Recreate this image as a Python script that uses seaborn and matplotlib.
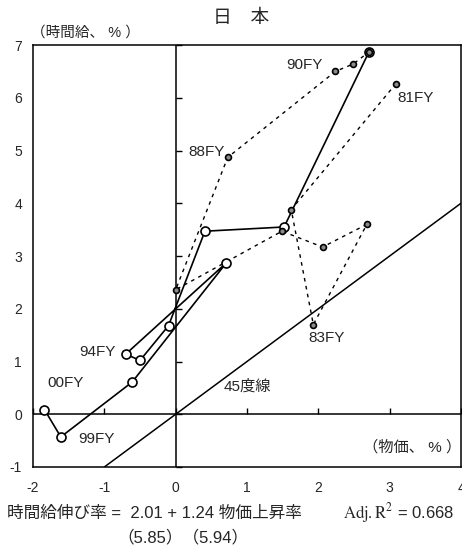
import matplotlib
matplotlib.use("Agg")
import matplotlib.pyplot as plt
import seaborn as sns
import pandas as pd

sns.set_theme(style="white")
FAM = ['Liberation Sans', 'Noto Sans CJK JP']
plt.rcParams['font.family'] = FAM
plt.rcParams['mathtext.fontset'] = 'stix'

# ---- data ----
fiscal_years = ["81", "82", "83", "84", "85", "86", "87", "88", "89", "90",
                "91", "92", "93", "94", "95", "96", "97", "98", "99", "00"]
price_growth = [3.09, 1.62, 1.93, 2.68, 2.06, 1.49, 0.00, 0.73, 2.24, 2.49,
                2.71, 1.52, 0.41, -0.10, -0.50, -0.70, 0.71, -0.61, -1.61, -1.84]
wage_growth = [6.27, 3.88, 1.70, 3.60, 3.17, 3.47, 2.36, 4.87, 6.50, 6.64,
               6.87, 3.55, 3.47, 1.68, 1.02, 1.14, 2.87, 0.61, -0.43, 0.09]
early_end = "91"       # dashed period: 81FY..91FY, solid period: 91FY..00FY

point_labels = ["81FY", "83FY", "88FY", "90FY", "94FY", "99FY", "00FY"]
label_x = [3.37, 2.11, 0.43, 1.80, -1.09, -1.11, -1.55]
label_y = [6.00, 1.45, 4.97, 6.62, 1.18, -0.46, 0.59]

x_ticks = [-2, -1, 0, 1, 2, 3, 4]
y_ticks = [-1, 0, 1, 2, 3, 4, 5, 6, 7]

df = pd.DataFrame({"fy": fiscal_years, "price": price_growth, "wage": wage_growth})
split = fiscal_years.index(early_end)
early = df.iloc[:split + 1]
late = df.iloc[split:]

fig = plt.figure(figsize=(4.62, 5.5), dpi=100)
ax = fig.add_axes([33 / 462, 83 / 550, 428 / 462, 422 / 550])

xmin, xmax = x_ticks[0], x_ticks[-1]
ymin, ymax = y_ticks[0], y_ticks[-1]
ax.set_xlim(xmin, xmax)
ax.set_ylim(ymin, ymax)

# zero lines and 45 degree line
ax.axhline(0, color='black', lw=1.1, zorder=1)
ax.axvline(0, color='black', lw=1.1, zorder=1)
ax.axline((0, 0), slope=1, color='black', lw=1.1, zorder=1)

# dashed period
sns.lineplot(data=early, x="price", y="wage", sort=False, estimator=None,
             color='black', lw=1.0, ax=ax, zorder=2)
ax.lines[-1].set_dashes((2.6, 3.2))
# solid period
sns.lineplot(data=late, x="price", y="wage", sort=False, estimator=None,
             color='black', lw=1.2, ax=ax, zorder=3)

sns.scatterplot(data=late, x="price", y="wage", s=42, color='white',
                edgecolor='black', linewidth=1.2, ax=ax, zorder=4)
sns.scatterplot(data=early, x="price", y="wage", s=18, color='#8a8a8a',
                edgecolor='black', linewidth=1.2, ax=ax, zorder=5)

for t, lx, ly in zip(point_labels, label_x, label_y):
    ax.text(lx, ly, t, fontsize=11, ha='center', va='center', zorder=6)

ax.text(1.0, 0.53, "45度線", fontsize=11, ha='center', va='center')
ax.text(3.32, -0.62, "（物価、 % ）", fontsize=11, ha='center', va='center')
ax.text(-1.27, 7.24, "（時間給、 % ）", fontsize=10.5, ha='center', va='center', clip_on=False)

# frame
for s in ax.spines.values():
    s.set_visible(True)
    s.set_color('black')
    s.set_linewidth(1.1)

ax.set_xticks(x_ticks)
ax.set_yticks(y_ticks)
ax.set_xticklabels([str(v) for v in x_ticks])
ax.set_yticklabels([str(v) for v in y_ticks])
ax.tick_params(axis='x', length=0, pad=10, labelsize=10)
ax.tick_params(axis='y', length=0, pad=8, labelsize=10)
ax.set_xlabel("")
ax.set_ylabel("")
ax.grid(False)

# tick marks on the zero lines
sx = ax.secondary_xaxis((0 - ymin) / (ymax - ymin))
sx.set_xticks(x_ticks)
sx.tick_params(direction='in', length=4, width=1.0, labelbottom=False, color='black')
for s in sx.spines.values():
    s.set_visible(False)
sy = ax.secondary_yaxis((0 - xmin) / (xmax - xmin))
sy.set_yticks(y_ticks)
sy.tick_params(direction='in', length=4, width=1.0, labelleft=False, color='black')
for s in sy.spines.values():
    s.set_visible(False)

fig.text(241 / 462, 1 - 18 / 550, "日　本", fontsize=13.5, ha='center', va='center')
fig.text(7 / 462, 1 - 513 / 550, "時間給伸び率 =  2.01 + 1.24 物価上昇率",
         fontsize=12, ha='left', va='center')
fig.text(343 / 462, 1 - 513 / 550, r"$\mathrm{Adj.R}^{2}$ = 0.668",
         fontsize=12, ha='left', va='center')
fig.text(183 / 462, 1 - 537 / 550, "（5.85）（5.94）",
         fontsize=12, ha='center', va='center')

fig.savefig("out.png", dpi=100)
